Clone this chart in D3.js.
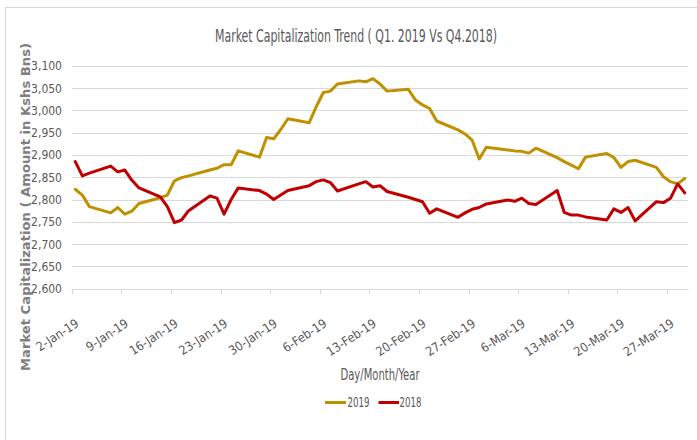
<!DOCTYPE html>
<html>
<head>
<meta charset="utf-8">
<script src="https://cdn.jsdelivr.net/npm/d3@7/dist/d3.min.js"></script>
<style>
  html, body { margin: 0; padding: 0; background: #fff; }
  svg { display: block; }
  .narrow { font-family: "Liberation Sans Narrow", "DejaVu Sans Condensed", "Liberation Sans", sans-serif; }
</style>
</head>
<body>
<svg id="chart" width="697" height="440"></svg>
<script>
// ---------------- DATA ----------------
const title = "Market Capitalization Trend ( Q1. 2019 Vs Q4.2018)";
const yTitle = "Market Capitalization ( Amount in Kshs Bns)";
const xTitle = "Day/Month/Year";
const seriesNames = ["2019", "2018"];

const dates = [
  "2019-01-02","2019-01-03","2019-01-04","2019-01-07","2019-01-08","2019-01-09","2019-01-10","2019-01-11",
  "2019-01-14","2019-01-15","2019-01-16","2019-01-17","2019-01-18","2019-01-21","2019-01-22","2019-01-23",
  "2019-01-24","2019-01-25","2019-01-28","2019-01-29","2019-01-30","2019-01-31",
  "2019-02-01","2019-02-04","2019-02-05","2019-02-06","2019-02-07","2019-02-08","2019-02-11","2019-02-12",
  "2019-02-13","2019-02-14","2019-02-15","2019-02-18","2019-02-19","2019-02-20","2019-02-21","2019-02-22",
  "2019-02-25","2019-02-26","2019-02-27","2019-02-28",
  "2019-03-01","2019-03-04","2019-03-05","2019-03-06","2019-03-07","2019-03-08","2019-03-11","2019-03-12",
  "2019-03-13","2019-03-14","2019-03-15","2019-03-18","2019-03-19","2019-03-20","2019-03-21","2019-03-22",
  "2019-03-25","2019-03-26","2019-03-27","2019-03-28","2019-03-29"
];

const values2019 = [
  2823,2810,2784,2770,2782,2767,2774,2791,
  2804,2810,2842,2849,2853,2866,2870,2878,
  2878,2909,2895,2939,2936,2957,
  2981,2972,3008,3040,3043,3059,3066,3064,
  3071,3059,3043,3047,3023,3012,3004,2976,
  2956,2947,2933,2891,
  2917,2911,2909,2908,2904,2915,2894,2885,
  2877,2869,2895,2903,2894,2872,2885,2888,
  2872,2851,2840,2835,2847
];

const values2018 = [
  2885,2853,2859,2875,2862,2866,2843,2826,
  2806,2784,2748,2754,2775,2808,2803,2767,
  2800,2826,2820,2812,2800,2810,
  2820,2831,2840,2844,2838,2819,2835,2840,
  2828,2831,2818,2805,2800,2795,2769,2779,
  2760,2770,2778,2782,
  2790,2799,2796,2803,2791,2789,2820,2771,
  2765,2765,2761,2754,2779,2771,2782,2752,
  2795,2793,2803,2835,2815
];

const yTicks = [2600,2650,2700,2750,2800,2850,2900,2950,3000,3050,3100];
const xTickLabels = ["2-Jan-19","9-Jan-19","16-Jan-19","23-Jan-19","30-Jan-19","6-Feb-19","13-Feb-19",
                     "20-Feb-19","27-Feb-19","6-Mar-19","13-Mar-19","20-Mar-19","27-Mar-19"];

// ---------------- LAYOUT ----------------
const colors = { "2019": "#BF9000", "2018": "#C00000" };
const plot = { left: 71.7, right: 688.3, top: 65.7, bottom: 288.7 };

const svg = d3.select("#chart");
const parseISO = d3.timeParse("%Y-%m-%d");
const parseTick = d3.timeParse("%d-%b-%y");

const dayStart = parseISO(dates[0]);
const dayEnd = d3.timeDay.offset(parseISO(dates[dates.length - 1]), 1);

const x = d3.scaleTime().domain([dayStart, dayEnd]).range([plot.left, plot.right]);
const y = d3.scaleLinear().domain([2600, 3100]).range([plot.bottom, plot.top]);

// chart border
svg.append("rect").attr("x", 5.5).attr("y", 7.5).attr("width", 700).attr("height", 440)
  .attr("fill", "none").attr("stroke", "#d9d9d9").attr("stroke-width", 1);

// gridlines
svg.append("g").selectAll("line").data(yTicks).join("line")
  .attr("x1", plot.left).attr("x2", plot.right)
  .attr("y1", d => Math.round(y(d)) + 0.5).attr("y2", d => Math.round(y(d)) + 0.5)
  .attr("stroke", "#d9d9d9").attr("stroke-width", 1);

// y tick labels
svg.append("g").attr("class", "narrow").selectAll("text").data(yTicks).join("text")
  .attr("x", 62).attr("y", d => y(d) + 4.5)
  .attr("text-anchor", "end").attr("font-size", 12).attr("fill", "#595959")
  .text(d => d3.format(",")(d));

// x axis ticks
const tickDates = xTickLabels.map(parseTick);
const xAxisG = svg.append("g").attr("transform", `translate(0,${Math.round(plot.bottom) + 0.5})`);
xAxisG.append("line").attr("x1", plot.left).attr("x2", plot.right)
  .attr("stroke", "#d9d9d9").attr("stroke-width", 1);
xAxisG.selectAll("line.tick").data([dayStart, ...tickDates.slice(1)]).join("line").attr("class", "tick")
  .attr("x1", d => Math.round(x(d)) + 0.5).attr("x2", d => Math.round(x(d)) + 0.5)
  .attr("y1", 0).attr("y2", 5).attr("stroke", "#d9d9d9");

svg.append("g").attr("class", "narrow").selectAll("text").data(tickDates).join("text")
  .attr("transform", (d, i) => `translate(${x(d) + 8},${plot.bottom + 37}) rotate(-33)`)
  .attr("text-anchor", "end").attr("font-size", 12.5).attr("fill", "#595959")
  .text((d, i) => xTickLabels[i]);

// lines
const pts = dates.map(parseISO).map(d => d3.timeHour.offset(d, 12));
const line = d3.line().x(d => x(d[0])).y(d => y(d[1]));
const seriesData = { "2019": values2019, "2018": values2018 };
seriesNames.forEach(name => {
  svg.append("path")
    .datum(pts.map((d, i) => [d, seriesData[name][i]]))
    .attr("d", line).attr("fill", "none")
    .attr("stroke", colors[name]).attr("stroke-width", 3)
    .attr("stroke-linejoin", "round").attr("stroke-linecap", "round");
});

// title
svg.append("text").attr("class", "narrow")
  .attr("x", 356).attr("y", 42).attr("text-anchor", "middle")
  .attr("font-size", 18).attr("fill", "#595959")
  .attr("textLength", 282).attr("lengthAdjust", "spacingAndGlyphs")
  .text(title);

// y axis title
svg.append("text")
  .attr("transform", "translate(30,207) rotate(-90)")
  .attr("text-anchor", "middle")
  .attr("font-family", "DejaVu Sans, sans-serif").attr("font-weight", "bold")
  .attr("font-size", 12.5).attr("fill", "#7f7f7f")
  .attr("textLength", 328).attr("lengthAdjust", "spacingAndGlyphs")
  .text(yTitle);

// x axis title
svg.append("text").attr("class", "narrow")
  .attr("x", 380).attr("y", 380).attr("text-anchor", "middle")
  .attr("font-size", 15).attr("fill", "#595959")
  .attr("textLength", 79).attr("lengthAdjust", "spacingAndGlyphs")
  .text(xTitle);

// legend
const legendItems = [
  { name: "2019", x1: 325, x2: 346, tx: 347.5 },
  { name: "2018", x1: 378.5, x2: 399, tx: 399.5 }
];
const lg = svg.append("g");
lg.selectAll("line").data(legendItems).join("line")
  .attr("x1", d => d.x1).attr("x2", d => d.x2).attr("y1", 402.5).attr("y2", 402.5)
  .attr("stroke", d => colors[d.name]).attr("stroke-width", 3);
lg.selectAll("text").data(legendItems).join("text").attr("class", "narrow")
  .attr("x", d => d.tx).attr("y", 407).attr("font-size", 14).attr("fill", "#595959")
  .attr("textLength", 22).attr("lengthAdjust", "spacingAndGlyphs")
  .text(d => d.name);
</script>
</body>
</html>
